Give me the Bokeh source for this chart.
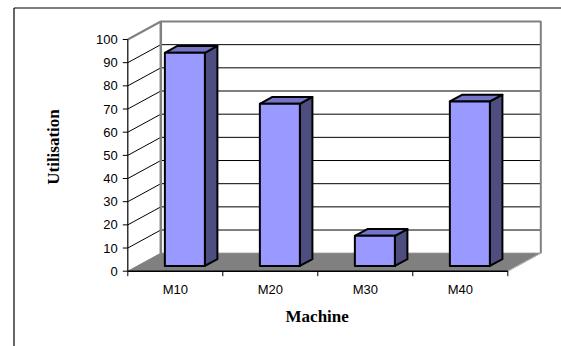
from bokeh.plotting import figure
from bokeh.models import Range1d
from bokeh.core.properties import value
from bokeh.embed import file_html
from bokeh.resources import INLINE

# ---- data -------------------------------------------------------------
machines = ["M10", "M20", "M30", "M40"]
utilisation = [92, 70, 13, 71]
y_ticks = [0, 10, 20, 30, 40, 50, 60, 70, 80, 90, 100]
y_tick_labels = ["0", "10", "20", "30", "40", "50", "60", "70", "80", "90", "100"]
x_title = "Machine"
y_title = "Utilisation"

# ---- canvas geometry ---------------------------------------------------
W, H = 561, 346
AX_LEFT_PX = 127.3      # pixel x of the front value axis
CAT_PX = 95.0           # pixel width of one category on the front plane
ZERO_PX = 270.7         # pixel y of value 0 on the front plane
UNIT_PX = 2.317         # pixels per utilisation unit

def u(px):
    """pixel x -> data x (category units)"""
    return (px - AX_LEFT_PX) / CAT_PX

def v(py):
    """pixel y (from top) -> data y (utilisation units)"""
    return (ZERO_PX - py) / UNIT_PX

# depth of the 3-D box expressed in data units
DX = 33.0 / CAT_PX
DY = 18.0 / UNIT_PX
n = len(machines)
top = y_ticks[-1]

p = figure(width=W, height=H, output_backend="svg", toolbar_location=None,
           x_range=Range1d(u(0), u(W)), y_range=Range1d(v(H), v(0)),
           min_border=0, x_axis_type=None, y_axis_type=None)
p.grid.visible = False
p.outline_line_color = None
p.background_fill_color = "white"
p.border_fill_color = "white"

# chart-area border
p.segment(x0=[u(13.5), u(13.5)], y0=[v(7.5), v(7.5)],
          x1=[u(13.5), u(W)], y1=[v(H), v(7.5)],
          line_color="#000000", line_width=1.2)

# floor
p.patch(x=[0, n, n + DX, DX], y=[0, 0, DY, DY], fill_color="#808080",
        line_color="#808080", line_width=1)

# side-wall diagonals and back-wall gridlines
inner = [t for t in y_ticks if 0 < t < top]
p.segment(x0=[0] * len(inner), y0=inner, x1=[DX] * len(inner),
          y1=[t + DY for t in inner], line_color="#000000", line_width=1)
p.segment(x0=[DX] * len(inner), y0=[t + DY for t in inner],
          x1=[n + DX] * len(inner), y1=[t + DY for t in inner],
          line_color="#000000", line_width=1)

# wall edges (grey)
p.line(x=[0, DX, n + DX, n + DX], y=[top, top + DY, top + DY, DY],
       line_color="#808080", line_width=2)
p.line(x=[DX, DX], y=[DY, top + DY], line_color="#808080", line_width=2.5)
p.line(x=[n, n + DX], y=[0, DY], line_color="#c0c0c0", line_width=1)

# value axis
p.line(x=[0, 0], y=[0, top], line_color="#000000", line_width=1.2)
p.segment(x0=[u(AX_LEFT_PX - 5)] * len(y_ticks), y0=y_ticks,
          x1=[0] * len(y_ticks), y1=y_ticks, line_color="#000000", line_width=1)
p.text(x=[u(AX_LEFT_PX - 10)] * len(y_ticks), y=y_ticks, text=y_tick_labels,
       text_font=value("Liberation Sans"), text_font_size="13px",
       text_align="right", text_baseline="middle", text_color="#000000")

# category axis
p.line(x=[0, n], y=[0, 0], line_color="#000000", line_width=1.5)
p.segment(x0=list(range(n + 1)), y0=[0] * (n + 1), x1=list(range(n + 1)),
          y1=[v(ZERO_PX + 5)] * (n + 1), line_color="#000000", line_width=1)
p.text(x=[i + 0.5 for i in range(n)], y=[v(288.5)] * n, text=machines,
       text_font=value("Liberation Sans"), text_font_size="13px",
       text_align="center", text_baseline="middle", text_color="#000000")

# 3-D bars
HALF = 20.0 / CAT_PX     # half width of a bar face
F0, F1 = 0.29, 0.67      # front / back depth of the bars (fraction of box depth)
fronts_x, fronts_y, tops_x, tops_y, sides_x, sides_y = [], [], [], [], [], []
for i, val in enumerate(utilisation):
    c = i + 0.5
    xl, xr = c - HALF + F0 * DX, c + HALF + F0 * DX
    yb, yt = F0 * DY, val + F0 * DY
    bx, by = (F1 - F0) * DX, (F1 - F0) * DY
    fronts_x.append([xl, xr, xr, xl]); fronts_y.append([yb, yb, yt, yt])
    tops_x.append([xl, xr, xr + bx, xl + bx]); tops_y.append([yt, yt, yt + by, yt + by])
    sides_x.append([xr, xr + bx, xr + bx, xr]); sides_y.append([yb, yb + by, yt + by, yt])

p.patches(xs=sides_x, ys=sides_y, fill_color="#4d4d80", line_color="#000000",
          line_width=2, line_join="round")
p.patches(xs=tops_x, ys=tops_y, fill_color="#7474c8", line_color="#000000",
          line_width=2, line_join="round")
p.patches(xs=fronts_x, ys=fronts_y, fill_color="#9999ff", line_color="#000000",
          line_width=2, line_join="round")

# axis titles
p.text(x=[u(316.7)], y=[v(316)], text=[x_title],
       text_font=value("Liberation Serif"), text_font_size="17px",
       text_font_style="bold", text_align="center", text_baseline="middle")
p.text(x=[u(53)], y=[v(146.5)], text=[y_title], angle=1.5708,
       text_font=value("Liberation Serif"), text_font_size="17px",
       text_font_style="bold", text_align="center", text_baseline="middle")

open("out.html", "w").write(file_html(p, INLINE))
